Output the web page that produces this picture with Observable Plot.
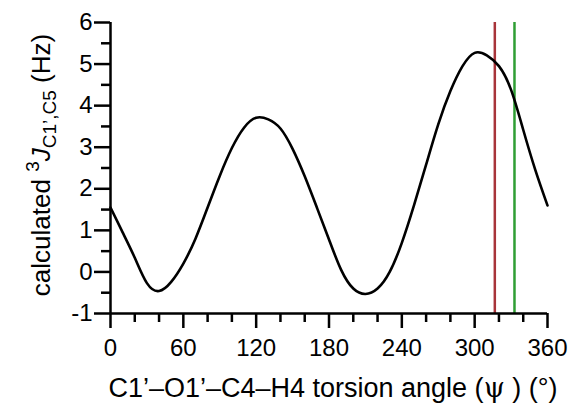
<!DOCTYPE html>
<html><head><meta charset="utf-8">
<script src="https://cdn.jsdelivr.net/npm/d3@7"></script>
<script src="https://cdn.jsdelivr.net/npm/@observablehq/plot@0.6"></script>
<style>
body{margin:0;background:#fff}
svg{font-family:"Liberation Sans",Arial,Helvetica,sans-serif}
</style>
</head><body><div id="chart"></div>
<script>
// torsion angle psi (deg) and calculated 3J(C1',C5) (Hz)
const angles    = [0, 10, 20, 30, 40, 50, 60, 70, 80, 90, 100, 110, 120, 130, 140, 150, 160, 170, 180,
                   190, 200, 210, 220, 230, 240, 250, 260, 270, 280, 290, 300, 310, 320, 330, 340, 350, 360];
const couplings = [1.55, 0.95, 0.34, -0.27, -0.46, -0.24, 0.20, 0.80, 1.55, 2.31, 2.98, 3.47, 3.71, 3.67, 3.45, 2.96, 2.30, 1.55, 0.78,
                   0.05, -0.40, -0.53, -0.40, 0.00, 0.70, 1.60, 2.58, 3.55, 4.35, 4.95, 5.27, 5.21, 4.95, 4.38, 3.42, 2.45, 1.60];
const markerAngles = [316.6, 332.8];
const markerColors = ["#a8343a", "#2f9e34"];
const xTicks = [0, 60, 120, 180, 240, 300, 360];
const xMinorTicks = [20, 40, 80, 100, 140, 160, 200, 220, 260, 280, 320, 340];
const yTicks = [-1, 0, 1, 2, 3, 4, 5, 6];
const yMinorTicks = [-0.5, 0.5, 1.5, 2.5, 3.5, 4.5, 5.5];
const xLabel = ["C1\u2019\u2013O1\u2019\u2013C4\u2013H4 torsion angle (", "\u03C8", " ) (\u00B0)"];
const yLabel = {pre: "calculated ", sup: "3", main: "J", sub: "C1\u2019,C5", post: " (Hz)"};

const curve = angles.map((a, i) => ({angle: a, J: couplings[i]}));
const markers = markerAngles.map((a, i) => ({angle: a, color: markerColors[i]}));

const sw = 2.5;
const plot = Plot.plot({
  width: 569, height: 404,
  marginLeft: 110, marginRight: 22, marginTop: 22, marginBottom: 91,
  x: {domain: [0, 360]},
  y: {domain: [-1, 6]},
  color: {type: "identity"},
  style: {fontFamily: "'Liberation Sans', Arial, sans-serif", fontSize: "24px", color: "#000", background: "#fff"},
  marks: [
    Plot.ruleX(markers, {x: "angle", y1: -1, y2: 6, stroke: "color", strokeWidth: sw}),
    Plot.axisX({ticks: xMinorTicks, tickSize: 9, tickFormat: () => "", label: null, strokeWidth: sw}),
    Plot.axisX({ticks: xTicks, tickSize: 15, tickPadding: 10, tickFormat: d => String(d), label: null, strokeWidth: sw, fontSize: 24}),
    Plot.axisY({ticks: yMinorTicks, tickSize: 9, tickFormat: () => "", label: null, strokeWidth: sw}),
    Plot.axisY({ticks: yTicks, tickSize: 16, tickPadding: 2, tickFormat: d => String(d), label: null, strokeWidth: sw, fontSize: 24}),
    Plot.ruleX([0], {strokeWidth: sw}),
    Plot.ruleY([-1], {strokeWidth: sw}),
    Plot.line(curve, {x: "angle", y: "J", curve: "natural", stroke: "#000", strokeWidth: 2.6})
  ]
});
document.getElementById("chart").appendChild(plot);

const svg = d3.select(plot);
// x axis title
const xt = svg.append("text")
  .attr("x", 333).attr("y", 397)
  .attr("text-anchor", "middle")
  .attr("font-size", 27).attr("fill", "#000");
xt.append("tspan").text(xLabel[0]);
xt.append("tspan").attr("font-family", "'DejaVu Serif', 'Liberation Serif', serif").text(xLabel[1]);
xt.append("tspan").text(xLabel[2]);

// y axis title
const yt = svg.append("text")
  .attr("transform", "translate(50,165) rotate(-90)")
  .attr("text-anchor", "middle")
  .attr("font-size", 26).attr("fill", "#000");
yt.append("tspan").text(yLabel.pre);
yt.append("tspan").attr("font-size", 19).attr("dy", -11).text(yLabel.sup);
yt.append("tspan").attr("font-style", "italic").attr("dy", 11).text(yLabel.main);
yt.append("tspan").attr("font-size", 19).attr("dy", 6).text(yLabel.sub);
yt.append("tspan").attr("dy", -6).text(yLabel.post);
</script>
</body></html>
